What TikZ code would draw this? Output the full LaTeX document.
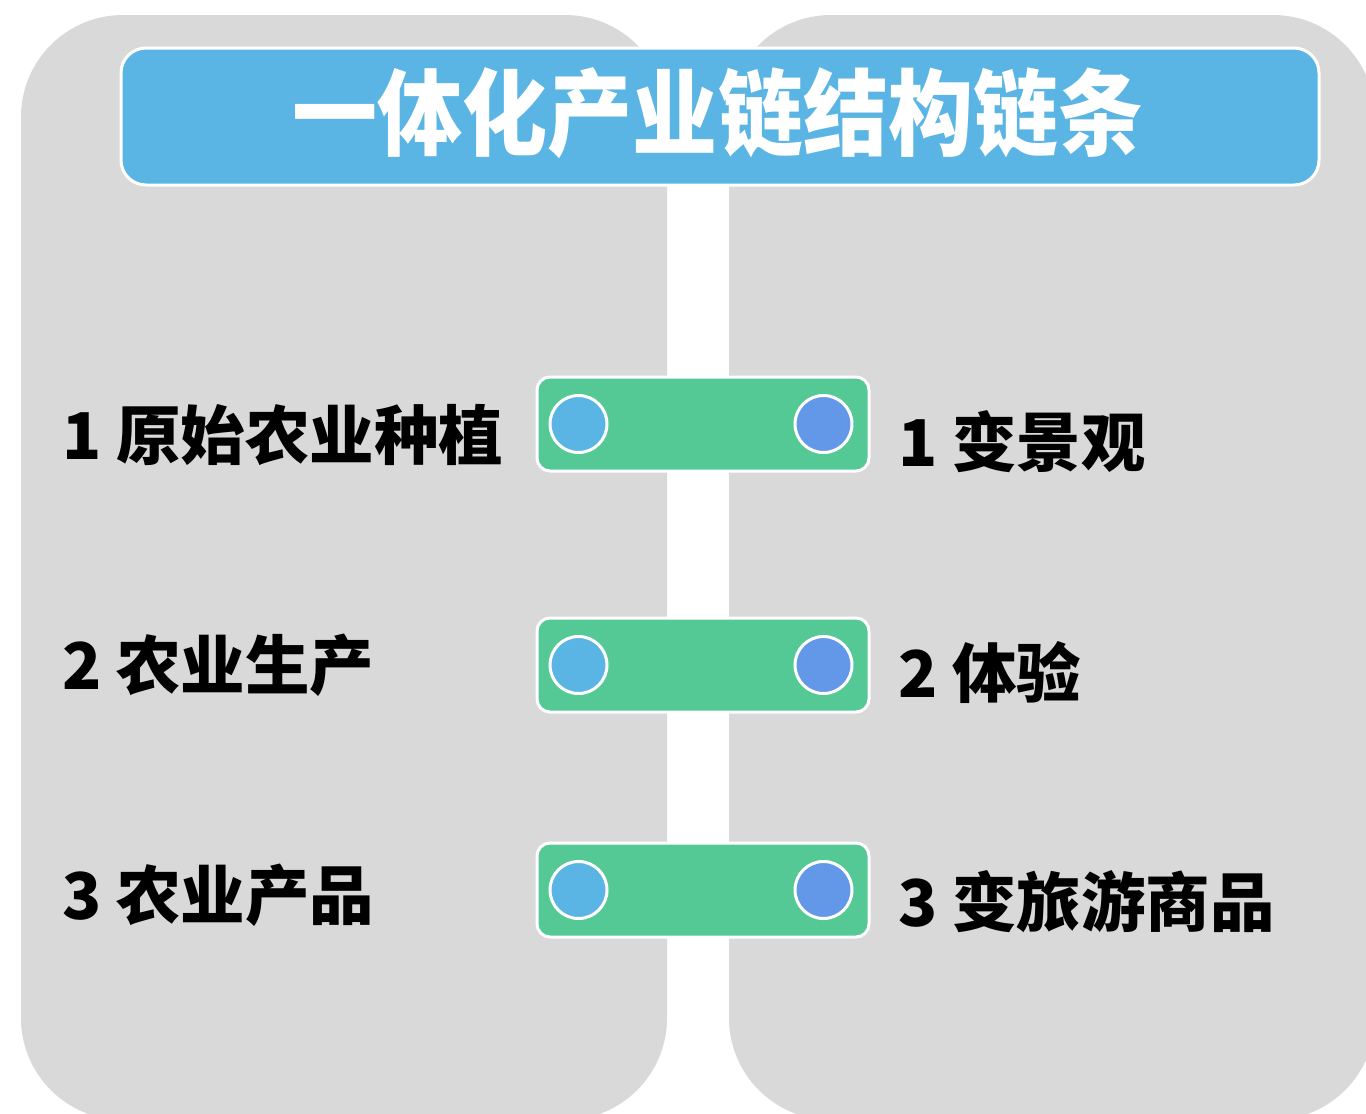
\documentclass[tikz,border=0pt]{standalone}
\usepackage{fontspec}
\newfontfamily\cjk{Noto Sans CJK SC}
\definecolor{panelgray}{HTML}{D9D9D9}
\definecolor{bannerblue}{HTML}{5AB5E4}
\definecolor{boxgreen}{HTML}{55C995}
\definecolor{dotblue}{HTML}{5AB5E4}
\definecolor{dotdark}{HTML}{6397E8}
\tikzset{
  panel/.style={fill=panelgray, rounded corners=102pt},
  linkbox/.style={draw=white, line width=3pt, fill=boxgreen, rounded corners=13pt},
  dotL/.style={circle, draw=white, line width=3pt, fill=dotblue, minimum size=57pt, inner sep=0pt},
  dotR/.style={circle, draw=white, line width=3pt, fill=dotdark, minimum size=57pt, inner sep=0pt},
  lbl/.style={anchor=west, inner sep=0pt, font=\cjk\bfseries\fontsize{64.5pt}{70pt}\selectfont, text=black},
}
\begin{document}
\begin{tikzpicture}[x=1pt, y=-1pt]
\useasboundingbox (0,0) rectangle (1366,1114);
\fill[white] (0,0) rectangle (1366,1114);
\begin{scope}
\clip (0,0) rectangle (1366,1114);
\fill[panel] (21,15) rectangle (667,1120);
\fill[panel] (729,15) rectangle (1375,1120);
\end{scope}
% banner
\draw[draw=white, line width=3pt, fill=bannerblue, rounded corners=25pt] (121,48) rectangle (1319,185);
\node[text=white, inner sep=0pt, font=\cjk\bfseries\fontsize{94pt}{100pt}\selectfont] (title) at (718,113) {\scalebox{0.905}[1]{一体化产业链结构链条}};
% link boxes
\foreach \i/\y in {1/424, 2/665, 3/890} {
  \draw[linkbox] (537,\y-47) rectangle (869,\y+47);
  \node[dotL] (l\i) at (578.5,\y) {};
  \node[dotR] (r\i) at (823.5,\y) {};
}
% labels
\node[lbl] (a1) at (62,435) {1 原始农业种植};
\node[lbl] (a2) at (62,665) {2 农业生产};
\node[lbl] (a3) at (62,895) {3 农业产品};
\node[lbl] (b1) at (898,442) {1 变景观};
\node[lbl] (b2) at (898,672) {2 体验};
\node[lbl] (b3) at (898,902) {3 变旅游商品};
\end{tikzpicture}
\end{document}
